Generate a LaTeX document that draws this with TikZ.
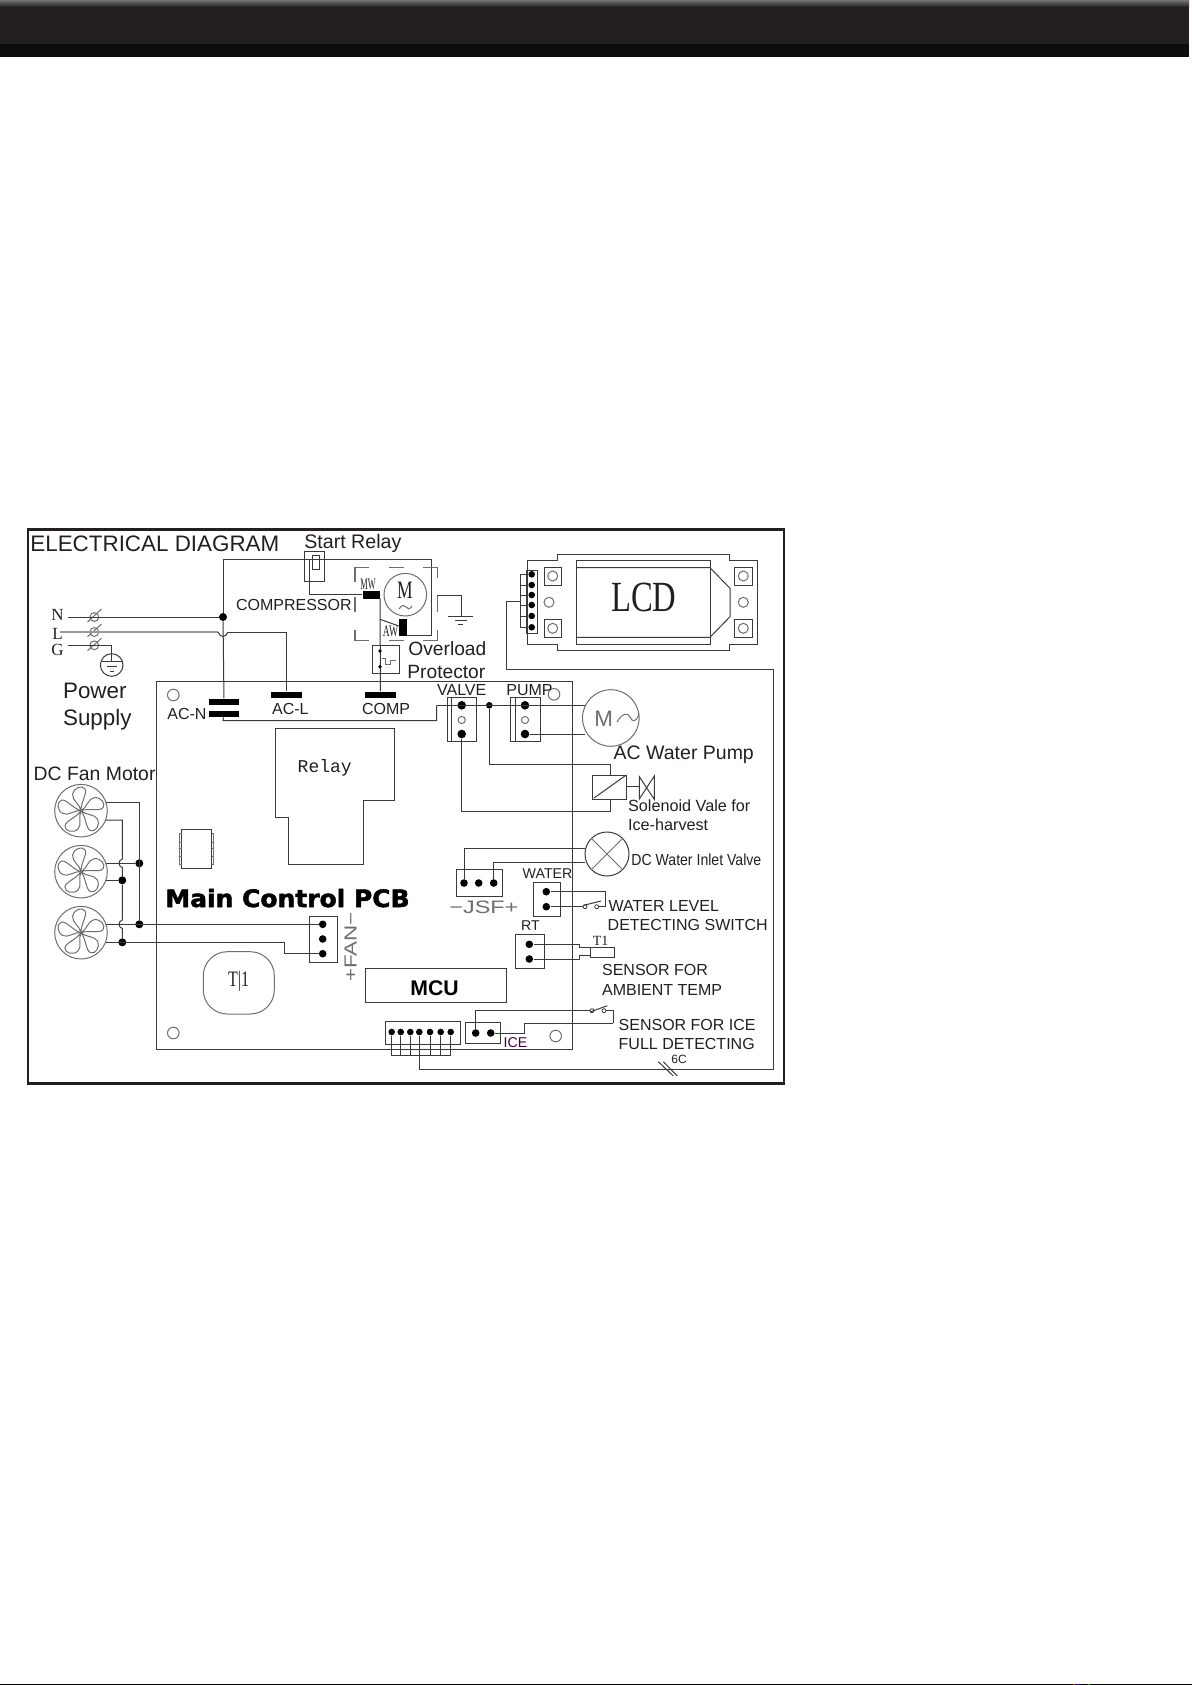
\documentclass[tikz,border=0pt]{standalone}
\usepackage{fontspec}
\setmainfont{Liberation Sans}
\newfontfamily\serifc{Liberation Serif}
\newfontfamily\monoc{Liberation Mono}
\newfontfamily\widec[BoldFeatures={FakeBold=2}]{DejaVu Sans}
\newcommand{\fsz}[1]{\fontsize{#1}{#1}\selectfont}
\definecolor{inkc}{HTML}{231F20}
\definecolor{wirec}{HTML}{3A3A3A}
\definecolor{softc}{HTML}{6E6E6E}
\tikzset{
	wire/.style={draw=wirec,line width=0.5pt},
	part/.style={draw=wirec,line width=0.5pt},
	soft/.style={draw=softc,line width=0.5pt},
	dot/.style={circle,fill=black,inner sep=0pt,minimum size=4pt},
	smalldot/.style={circle,fill=black,inner sep=0pt,minimum size=3.3pt},
	ring/.style={circle,draw=softc,line width=0.5pt,inner sep=0pt,minimum size=5pt},
	bar/.style={rectangle,fill=black,inner sep=0pt,minimum width=15.4pt,minimum height=3.2pt},
	lbl/.style={anchor=base west,inner sep=0pt,text=inkc,font=\fsz{8}},
	smalllbl/.style={lbl,font=\fsz{7.1}},
	fanwheel/.pic={
		\draw[soft] (0,0) circle (26.3);
		\foreach \a in {0,72,144,216,288}
			\draw[soft,rotate=\a] (0,0) .. controls (6,-3) and (7,-12) .. (13,-13) .. controls (20,-14) and (25,-7) .. (22,-3) .. controls (19,1) and (8,-3) .. (0,0);
	}
}
\begin{document}
\begin{tikzpicture}[x=0.5pt,y=-0.5pt]
	\useasboundingbox (0,0) rectangle (1192,1685);
	% header band and foot line
	\fill[inkc] (0,7) rectangle (1189,44);
	\shade[top color=black!55,bottom color=inkc] (0,0) rectangle (1189,7);
	\fill[black!95] (0,44) rectangle (1189,57);
	\fill[black] (0,1683.7) rectangle (1192,1685);
	\fill[red] (1073,1683.7) rectangle (1075,1685);
	\fill[blue] (1077,1683.7) rectangle (1079,1685);
	\fill[green!60!black] (1088,1683.7) rectangle (1090,1685);
	% frame and main board
	\draw[draw=inkc,line width=1.35pt] (28,529.3) rectangle (784,1083.3);
	\draw[part] (156,681) rectangle (572,1049.7);
	\node (holeA) [ring,minimum size=5.8pt] at (173.3,695) {};
	\node (holeB) [ring,minimum size=5.8pt] at (173.3,1033) {};
	\node (holeC) [ring,minimum size=5.8pt] at (554,694.3) {};
	\node (holeD) [ring,minimum size=5.8pt] at (555.7,1036) {};
	% labels
	\node (title) [lbl,font=\fsz{11.2}] at (30,551.7) {ELECTRICAL DIAGRAM};
	\node (startlbl) [lbl,font=\fsz{9.8}] at (304,548) {Start Relay};
	\node (complbl) [lbl,font=\fsz{8}] at (235.7,610.7) {COMPRESSOR};
	\node (powerlbl) [lbl,font=\fsz{11.2}] at (62.7,698) {Power};
	\node (supplylbl) [lbl,font=\fsz{11.2}] at (62.7,725) {Supply};
	\node (dcfanlbl) [lbl,font=\fsz{9.7}] at (33.3,780.7) {DC Fan Motor};
	\node (overlbl) [lbl,font=\fsz{9.6}] at (408,655) {Overload};
	\node (protlbl) [lbl,font=\fsz{9.6}] at (407,678) {Protector};
	\node (acnlbl) [lbl] at (167,719) {AC-N};
	\node (acllbl) [lbl] at (271.7,714) {AC-L};
	\node (cmplbl) [lbl] at (361.7,714) {COMP};
	\node (valvelbl) [lbl] at (436.7,695.7) {VALVE};
	\node (pumplbl) [lbl] at (506,695.7) {PUMP};
	\node (aclbl) [lbl,font=\fsz{9.75}] at (613.3,759.3) {AC Water Pump};
	\node (sollbl) [lbl,font=\fsz{8.1}] at (627.7,811.7) {Solenoid Vale for};
	\node (icelbl) [lbl,font=\fsz{8.1}] at (627.7,830) {Ice-harvest};
	\node (inletlbl) [lbl] at (631,865) {\scalebox{0.88}[1]{DC Water Inlet Valve}};
	\node (waterlbl) [smalllbl] at (522.3,878.3) {WATER};
	\node (levellbl) [lbl] at (608.3,911.7) {WATER LEVEL};
	\node (detlbl) [lbl] at (607.3,930) {DETECTING SWITCH};
	\node (rtlbl) [smalllbl] at (520.7,930) {RT};
	\node (amblbl) [lbl] at (601.7,975.7) {SENSOR FOR};
	\node (tmplbl) [lbl] at (601.7,995) {AMBIENT TEMP};
	\node (fulllbl) [lbl] at (618.3,1030) {SENSOR FOR ICE};
	\node (fdetlbl) [lbl] at (618.3,1049) {FULL DETECTING};
	\node (iceshort) [smalllbl,text=violet!50!black] at (503.3,1047.3) {ICE};
	\node (jsflbl) [lbl,text=softc,font=\fsz{9}] at (449,913.3) {\scalebox{1.3}[1]{−JSF+}};
	\node (fanlbl) [lbl,anchor=center,rotate=90,text=softc,font=\fsz{8.75}] at (350.5,947) {\scalebox{1.28}[1]{+FAN−}};
	\node (pcblbl) [anchor=base west,inner sep=0pt,text=black,font=\widec\bfseries\fsz{12}] at (165,907) {\scalebox{1.04}[1]{Main Control PCB}};
	\node (mculbl) [anchor=base west,inner sep=0pt,text=black,font=\bfseries\fsz{10.6}] at (410,995) {MCU};
	\node (relaylbl) [lbl,font=\monoc\fsz{9}] at (297.3,772.3) {Relay};
	\node (lcdlbl) [lbl,font=\serifc\fsz{21.5}] at (610.7,611) {\scalebox{0.76}[1]{LCD}};
	\node (t1lbl) [lbl,anchor=base,font=\serifc\fsz{7}] at (600.7,945) {T1};
	\node (sixlbl) [lbl,anchor=base,font=\fsz{6}] at (679,1063) {6C};
	\node (mlbl) [lbl,anchor=base,font=\serifc\fsz{12.5}] at (405,598) {\scalebox{0.7}[1]{M}};
	\node (mwlbl) [lbl,anchor=base,font=\serifc\fsz{8}] at (368,589.5) {\scalebox{0.52}[1]{MW}};
	\node (awlbl) [lbl,anchor=base,font=\serifc\fsz{8}] at (390.5,636) {\scalebox{0.6}[1]{AW}};
	\node (n) [lbl,anchor=base,font=\serifc\fsz{8.5}] at (57.5,620) {N};
	\node (l) [lbl,anchor=base,font=\serifc\fsz{8.5}] at (57.5,639) {L};
	\node (g) [lbl,anchor=base,font=\serifc\fsz{8.5}] at (57.5,655) {G};
	% relay, ic, mcu and t1 parts
	\draw[part] (275,728.3) -- (394.3,728.3) -- (394.3,800) -- (363.3,800) -- (363.3,864.3) -- (288,864.3) -- (288,817.3) -- (275,817.3) -- cycle;
	\draw[part] (181.7,829) rectangle (211.7,868.3);
	\draw[soft] (181.7,833) -- (179.3,833) -- (179.3,864) -- (181.7,864);
	\draw[soft] (179.3,842) -- (181.7,842) (179.3,848) -- (181.7,848) (179.3,856) -- (181.7,856);
	\draw[soft] (211.7,833) -- (213.5,833) -- (213.5,864) -- (211.7,864);
	\draw[soft] (211.7,842) -- (213.5,842) (211.7,848) -- (213.5,848) (211.7,856) -- (213.5,856);
	\draw[part] (365.7,968.3) rectangle (506,1002.7);
	\draw[soft,rounded corners=12] (203.3,951.7) rectangle (274.3,1014);
	\node (t1part) [lbl,anchor=center,font=\serifc\fsz{11}] at (238.7,981.7) {\scalebox{0.73}[1]{T|1}};
	% power lines
	\node (nfuse) [ring,minimum size=4.4pt] at (94.3,617) {};
	\node (lfuse) [ring,minimum size=4.4pt] at (94.3,632) {};
	\node (gfuse) [ring,minimum size=4.4pt] at (94.3,645.3) {};
	\draw[soft] (87.5,622) -- (101.5,609) (87.5,636.7) -- (101.5,624) (87.5,650.7) -- (101.5,638.3);
	\node (ntop) [dot] at (223,617) {};
	\node (earth) [circle,draw=wirec,line width=0.5pt,inner sep=0pt,minimum size=11.3pt] at (111.7,665) {};
	\node (acl) [bar] at (286.4,695) {};
	\node (cmp) [bar] at (380.5,695) {};
	\node (acna) [bar] at (224,702) {};
	\node (acnb) [bar] at (224,713.7) {};
	\coordinate (nstart) at (67.7,617);
	\coordinate (lstart) at (60,632);
	\coordinate (gstart) at (67.7,645.3);
	\coordinate (hopa) at (218,632);
	\coordinate (hopb) at (228,632);
	\draw[wire] (nstart) -- (ntop);
	\draw[draw=black!40,line width=0.7pt] (lstart) -- (hopa);
	\draw[wire] (hopa) .. controls (220,638) and (226,638) .. (hopb);
	\draw[wire] (hopb) -| (acl);
	\draw[wire] (gstart) -| (earth);
	\draw[wire] (101.5,661.7) -- (122,661.7) (106.7,666.7) -- (117,666.7) (110,671.3) -- (114,671.3);
	\draw[wire] (111.7,654) -- (111.7,661.7);
	\draw[wire] (ntop) -- (acna);
	% compressor and start relay
	\node (motor) [circle,draw=softc,line width=0.5pt,inner sep=0pt,minimum size=21.3pt] at (405.3,594.7) {};
	\draw[soft] (399,609) .. controls (402,604) and (405,605) .. (406,607) .. controls (407,609) and (410,610) .. (412,606);
	\node (mwblock) [rectangle,fill=black,inner sep=0pt,minimum width=8.7pt,minimum height=4pt] at (371.3,594.7) {};
	\node (awblock) [rectangle,fill=black,inner sep=0pt,minimum width=4pt,minimum height=8.5pt] at (403,627.5) {};
	\draw[part] (304.3,551.3) rectangle (324.7,581.7);
	\draw[part] (312.7,555) rectangle (319.3,569);
	\coordinate (looptop) at (223,559.7);
	\coordinate (loopright) at (431,559.7);
	\coordinate (awbase) at (407,635);
	\coordinate (mwdrop) at (380,598.7);
	\coordinate (awtap) at (380,619.3);
	\coordinate (relaytap) at (309.3,559.7);
	\draw[wire] (ntop) -- (looptop) -- (loopright) |- (awbase);
	\draw[wire] (relaytap) |- (mwblock);
	\draw[wire] (mwdrop) -- (cmp);
	\draw[wire] (awtap) -- (awblock);
	% dashed case of the compressor
	\draw[soft,line width=0.6pt] (368.7,567.7) -- (355,567.7) -- (355,581.7);
	\draw[soft,line width=0.6pt] (389.3,567.7) -- (404,567.7) (423.3,567.7) -- (437.3,567.7) -- (437.3,577.7);
	\draw[soft,line width=0.6pt] (355,597) -- (355,611.7);
	\draw[soft,line width=0.6pt] (355,630) -- (355,640.7) -- (368.7,640.7);
	\draw[soft,line width=0.6pt] (389.3,640.7) -- (404,640.7) (423.3,640.7) -- (437.3,640.7) -- (437.3,630);
	\draw[soft,line width=0.6pt] (437.3,611.7) -- (437.3,595);
	\coordinate (gndstart) at (437.3,595);
	\coordinate (gndbar) at (461.7,616);
	\draw[wire] (gndstart) -| (gndbar);
	\draw[wire] (447.7,616) -- (473.3,616) (455,620) -- (466.7,620) (458,624) -- (463,624);
	% overload protector
	\draw[part] (372.7,645.7) rectangle (399,673.7);
	\node (ovra) [circle,fill=black,inner sep=0pt,minimum size=1.8pt] at (380,651) {};
	\node (ovrb) [circle,fill=black,inner sep=0pt,minimum size=1.8pt] at (380,666.7) {};
	\draw[soft] (382,658.3) -- (385,658.3) -- (385,664) -- (390.7,664) -- (390.7,660) -- (396,660);
	% lcd module
	\draw[part] (527.3,560.7) -- (557.3,560.7) -- (557.3,554.7) -- (729,554.7) -- (729,560.7) -- (757,560.7) -- (757,644) -- (729,644) -- (729,650) -- (557.3,650) -- (557.3,644) -- (527.3,644) -- cycle;
	\draw[part] (576.7,560.7) rectangle (710,644);
	\draw[part] (576.7,567.7) -- (710,567.7) -- (730,588.3) -- (730,616.7) -- (710,637.3) -- (576.7,637.3);
	\draw[part] (544,567.7) rectangle (561.3,585.3);
	\draw[part] (544,619.7) rectangle (561.3,637.3);
	\draw[part] (734.7,567.7) rectangle (752.3,585.3);
	\draw[part] (734.7,619.7) rectangle (752.3,637.3);
	\node (padA) [ring] at (552.7,576) {};
	\node (padB) [ring] at (552.7,628.3) {};
	\node (padC) [ring] at (743.3,576) {};
	\node (padD) [ring] at (743.3,628.3) {};
	\node (padE) [ring] at (549,602.3) {};
	\node (padF) [ring] at (743.3,602.3) {};
	\draw[part] (526,570.3) rectangle (537.7,633.7);
	\node (lcdA) [smalldot] at (531.7,574.3) {};
	\node (lcdB) [smalldot] at (531.7,585) {};
	\node (lcdC) [smalldot] at (531.7,595) {};
	\node (lcdD) [smalldot] at (531.7,605) {};
	\node (lcdE) [smalldot] at (531.7,616) {};
	\node (lcdF) [smalldot] at (531.7,627.3) {};
	\coordinate (lcdstub) at (520,601.7);
	\draw[wire] (520,574.3) -- (lcdA);
	\draw[wire] (520,585) -- (lcdB);
	\draw[wire] (520,595) -- (lcdC);
	\draw[wire] (lcdstub) -- (520,605) -- (lcdD);
	\draw[wire] (520,616) -- (lcdE);
	\draw[wire] (520,627.3) -- (lcdF);
	\draw[wire] (520,574.3) -- (520,627.3);
	% valve and pump headers
	\draw[part] (447,697.3) rectangle (476.7,741);
	\draw[part] (451.7,697.3) -- (451.7,741);
	\draw[part] (510.7,697.3) rectangle (540.3,741);
	\draw[part] (515.3,697.3) -- (515.3,741);
	\node (valveA) [dot,minimum size=4.3pt] at (461.7,705.3) {};
	\node (valveB) [ring,minimum size=3.6pt] at (461.7,720) {};
	\node (valveC) [dot,minimum size=4.3pt] at (461.7,734) {};
	\node (pumpA) [dot,minimum size=4.3pt] at (525,705.3) {};
	\node (pumpB) [ring,minimum size=3.6pt] at (525,720) {};
	\node (pumpC) [dot,minimum size=4.3pt] at (525,734) {};
	\node (tee) [smalldot] at (489.3,705.3) {};
	\coordinate (acnret) at (223,720.7);
	\coordinate (acnup) at (436.7,705.3);
	\coordinate (pumpin) at (585.3,705.3);
	\coordinate (pumpout) at (585.3,734);
	\draw[wire] (acnb) -- (acnret) -| (acnup);
	\draw[wire] (acnup) -- (pumpin);
	\draw[wire] (pumpC) -- (pumpout);
	\node (pumpm) [circle,draw=softc,line width=0.5pt,inner sep=0pt,minimum size=28.3pt] at (610.8,718) {};
	\node (pumpml) [lbl,anchor=base west,text=softc,font=\fsz{11.2}] at (594,726.7) {M};
	\draw[soft] (617,722) .. controls (623,712) and (628,713) .. (630,717) .. controls (632,722) and (636,723) .. (639,714);
	% solenoid
	\draw[part] (592.7,775) rectangle (626.3,799);
	\draw[part] (594,798) -- (626.3,775);
	\coordinate (soltop) at (610.7,775);
	\coordinate (solbot) at (610.7,799);
	\coordinate (solmid) at (610.7,764.7);
	\coordinate (solret) at (610.7,811.7);
	\draw[wire] (tee) |- (solmid) -- (soltop);
	\draw[wire] (valveC) |- (solret) -- (solbot);
	\draw[wire] (626.3,786.7) -- (639.3,786.7);
	\draw[part] (639.3,776.7) -- (654.3,799.3) -- (654.3,776) -- (639.3,799) -- cycle;
	% inlet valve and jsf header
	\node (inlet) [circle,draw=wirec,line width=0.5pt,inner sep=0pt,minimum size=22pt] at (607,854) {};
	\draw[soft] (inlet.north west) -- (inlet.south east) (inlet.north east) -- (inlet.south west);
	\draw[part] (456.3,869) rectangle (502.7,896.7);
	\node (jsfA) [dot,minimum size=3.8pt] at (464,883) {};
	\node (jsfB) [dot,minimum size=3.8pt] at (478.7,883) {};
	\node (jsfC) [dot,minimum size=3.8pt] at (493.7,883) {};
	\coordinate (inleta) at (585,848.3);
	\coordinate (inletb) at (585,862);
	\draw[wire] (jsfA) |- (inleta);
	\draw[wire] (jsfC) |- (inletb);
	% water level switch
	\draw[part] (533,882.3) rectangle (560.3,916.3);
	\node (waterA) [dot,minimum size=3.8pt] at (546.3,891.7) {};
	\node (waterB) [dot,minimum size=3.8pt] at (546.3,906.7) {};
	\node (swA) [circle,draw=wirec,line width=0.4pt,inner sep=0pt,minimum size=2pt] at (585,906.7) {};
	\node (swB) [circle,draw=wirec,line width=0.4pt,inner sep=0pt,minimum size=2pt] at (596.7,906.7) {};
	\coordinate (swend) at (605,906.7);
	\draw[wire] (waterB) -- (swA);
	\draw[wire] (swB) -- (swend) |- (waterA);
	\draw[wire] (583,905.5) -- (601,901);
	% rt sensor
	\draw[part] (515.3,934) rectangle (544,968.3);
	\node (rtA) [dot,minimum size=3.8pt] at (529.3,944.3) {};
	\node (rtB) [dot,minimum size=3.8pt] at (529.3,959) {};
	\draw[part] (590.7,947) rectangle (614.3,957.3);
	\draw[wire] (rtA) -- (579.3,944.3) -- (579.3,947.7) -- (590.7,947.7);
	\draw[wire] (rtB) -- (579.3,959) -- (579.3,955) -- (590.7,955);
	% ice switch
	\draw[part] (465.7,1022.3) rectangle (500.3,1043.7);
	\node (iceA) [dot,minimum size=3.8pt] at (475.7,1033) {};
	\node (iceB) [dot,minimum size=3.8pt] at (490.7,1033) {};
	\node (swC) [circle,draw=wirec,line width=0.4pt,inner sep=0pt,minimum size=2pt] at (592,1010.7) {};
	\node (swD) [circle,draw=wirec,line width=0.4pt,inner sep=0pt,minimum size=2pt] at (604,1010.7) {};
	\coordinate (iceret) at (613.3,1023.3);
	\coordinate (icestep) at (524.7,1023.3);
	\draw[wire] (iceA) |- (swC);
	\draw[wire] (swD) -| (iceret);
	\draw[wire] (iceret) -- (icestep) -- (524.7,1033) -- (iceB);
	\draw[wire] (590,1012) -- (607.3,1005.7);
	% seven way header and its cable
	\draw[part] (385.7,1021.7) rectangle (460.3,1044);
	\node (pinA) [smalldot] at (391.7,1032) {};
	\node (pinB) [smalldot] at (400.7,1032) {};
	\node (pinC) [smalldot] at (410.3,1032) {};
	\node (pinD) [smalldot] at (419.3,1032) {};
	\node (pinE) [smalldot] at (430,1032) {};
	\node (pinF) [smalldot] at (440.7,1032) {};
	\node (pinG) [smalldot] at (450.7,1032) {};
	\coordinate (cabA) at (391.7,1055.7);
	\coordinate (cabG) at (450.7,1055.7);
	\draw[wire] (cabA) -- (cabG);
	\draw[wire] (pinA) -- (cabA);
	\draw[wire] (pinB) -- (400.7,1055.7);
	\draw[wire] (pinC) -- (410.3,1055.7);
	\draw[wire] (pinE) -- (430,1055.7);
	\draw[wire] (pinF) -- (440.7,1055.7);
	\draw[wire] (pinG) -- (cabG);
	\coordinate (cabB) at (419.3,1069.3);
	\coordinate (cabC) at (773.3,1069.3);
	\coordinate (cabD) at (773.3,669.3);
	\coordinate (cabE) at (506,669.3);
	\draw[wire] (pinD) -- (cabB) -- (cabC) -- (cabD) -- (cabE) |- (lcdstub);
	\draw[wire] (658.3,1061.7) -- (673.3,1076) (663.3,1061.7) -- (677.3,1076);
	% fans and fan header
	\pic (fanA) at (81,810.7) {fanwheel};
	\pic (fanB) at (81,871.7) {fanwheel};
	\pic (fanC) at (81,932.7) {fanwheel};
	\draw[part] (309.3,916.3) rectangle (337.7,962.3);
	\node (fanhA) [dot,minimum size=3.8pt] at (322.7,924.3) {};
	\node (fanhB) [dot,minimum size=3.8pt] at (322.7,939) {};
	\node (fanhC) [dot,minimum size=3.8pt] at (322.7,953.7) {};
	\node (plusB) [dot] at (139.3,863.3) {};
	\node (plusC) [dot] at (139.3,924.3) {};
	\node (minusB) [dot] at (122.3,880.3) {};
	\node (minusC) [dot] at (122.3,942.3) {};
	\coordinate (fanAa) at (106,802.3);
	\coordinate (fanAb) at (106,820);
	\coordinate (fanBa) at (106,863.3);
	\coordinate (fanBb) at (106,880.3);
	\coordinate (fanCa) at (106,924.3);
	\coordinate (fanCb) at (106,942.3);
	\draw[wire] (fanAa) -| (plusC);
	\draw[wire] (fanBa) -- (plusB);
	\draw[wire] (fanBb) -- (minusB);
	\draw[wire] (fanCa) -- (fanhA);
	\draw[wire] (fanCb) -- (284.7,942.3) |- (fanhC);
	\draw[wire] (fanAb) -| (122.3,859) .. controls (118,860) and (118,866.5) .. (122.3,867.5) -- (minusB);
	\draw[wire] (minusB) -- (122.3,920) .. controls (118,921) and (118,927.5) .. (122.3,928.5) -- (minusC);
\end{tikzpicture}
\end{document}
